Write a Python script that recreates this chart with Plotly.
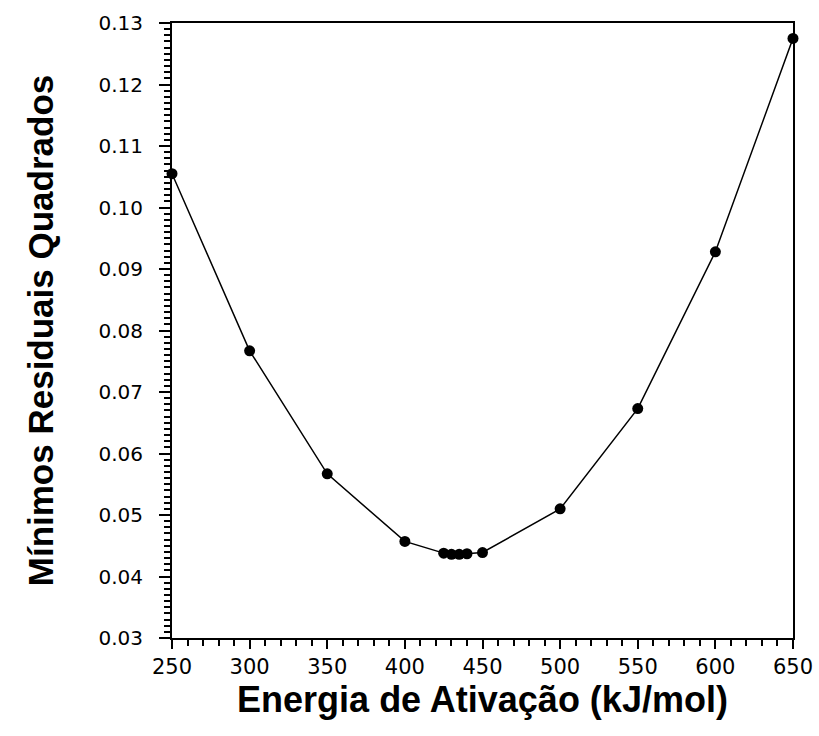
import plotly.graph_objects as go

energia = [250, 300, 350, 400, 425, 430, 435, 440, 450, 500, 550, 600, 650]
residuos = [0.1055, 0.0767, 0.0567, 0.0457, 0.0438, 0.0436, 0.0436, 0.0437, 0.0439, 0.0510, 0.0673, 0.0928, 0.1275]

fig = go.Figure()
fig.add_trace(go.Scatter(
    x=energia, y=residuos, mode="lines+markers",
    line=dict(color="black", width=1.5),
    marker=dict(color="black", size=11),
    showlegend=False, cliponaxis=False,
))

fig.update_layout(
    width=819, height=736,
    margin=dict(l=172, r=26, t=23, b=98),
    paper_bgcolor="white", plot_bgcolor="white",
    font=dict(family="Liberation Sans, Arial, sans-serif", color="black"),
)
fig.update_xaxes(
    range=[250, 650], tickvals=[250, 300, 350, 400, 450, 500, 550, 600, 650],
    ticks="outside", ticklen=9, tickwidth=1.5, tickcolor="black",
    minor=dict(dtick=10, ticks="outside", ticklen=6, tickcolor="black", tickwidth=1.5),
    showline=True, linecolor="black", linewidth=2, mirror=True,
    showgrid=False, zeroline=False, automargin=False,
    tickfont=dict(size=21, family="DejaVu Sans"),
    title=dict(text="<b>Energia de Ativação (kJ/mol)</b>", font=dict(size=36), standoff=4),
)
fig.update_yaxes(
    range=[0.03, 0.13], dtick=0.01, tick0=0.03, tickformat=".2f",
    ticks="outside", ticklen=11, tickwidth=1.5, tickcolor="black",
    minor=dict(dtick=0.001, ticks="outside", ticklen=6, tickcolor="black", tickwidth=1.5),
    showline=True, linecolor="black", linewidth=2, mirror=True,
    showgrid=False, zeroline=False, automargin=False,
    ticklabelstandoff=12,
    tickfont=dict(size=20, family="DejaVu Sans"),
    title=dict(text="<b>Mínimos Residuais Quadrados</b>", font=dict(size=35), standoff=34),
)

fig.write_html("out.html")
